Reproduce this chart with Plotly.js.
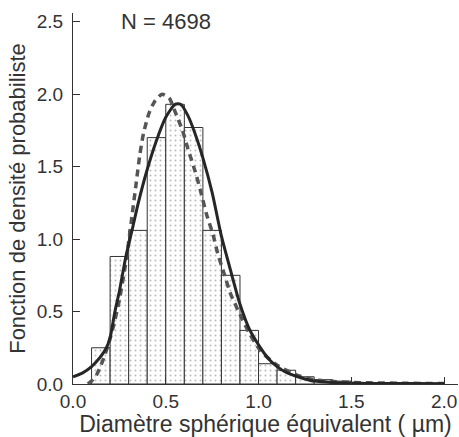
<!DOCTYPE html>
<html>
<head>
<meta charset="utf-8">
<script src="https://cdn.plot.ly/plotly-3.0.1.min.js"></script>
<style>html,body{margin:0;padding:0;background:#fff;}#chart{width:459px;height:437px;}</style>
</head>
<body>
<div id="chart"></div>
<script>
// Histogram: bin centres (width 0.1 µm) and densities
const binCenters = [0.15, 0.25, 0.35, 0.45, 0.55, 0.65, 0.75, 0.85, 0.95, 1.05, 1.15, 1.25, 1.35, 1.45, 1.55, 1.65, 1.75, 1.85, 1.95];
const binDensity = [0.25, 0.88, 1.06, 1.70, 1.93, 1.77, 1.06, 0.75, 0.37, 0.14, 0.095, 0.05, 0.03, 0.02, 0.01, 0.008, 0.006, 0.005, 0.005];

// Solid fitted curve
const solidX = [0.00, 0.05, 0.10, 0.15, 0.18, 0.20, 0.226, 0.25, 0.285, 0.32, 0.35, 0.40, 0.45, 0.50, 0.55, 0.58, 0.62, 0.66, 0.70, 0.75, 0.80, 0.85, 0.90, 0.95, 1.00, 1.05, 1.10, 1.15, 1.20, 1.25, 1.30, 1.40, 1.60, 1.80, 2.00];
const solidY = [0.05, 0.075, 0.12, 0.19, 0.25, 0.32, 0.50, 0.64, 0.88, 1.07, 1.24, 1.48, 1.68, 1.84, 1.93, 1.93, 1.85, 1.72, 1.56, 1.32, 1.02, 0.78, 0.55, 0.38, 0.27, 0.18, 0.12, 0.08, 0.055, 0.035, 0.02, 0.01, 0.004, 0.003, 0.002];

// Dashed fitted curve
const dashX = [0.08, 0.10, 0.13, 0.16, 0.19, 0.22, 0.25, 0.28, 0.30, 0.32, 0.34, 0.36, 0.38, 0.41, 0.44, 0.48, 0.52, 0.55, 0.59, 0.62, 0.66, 0.69, 0.72, 0.755, 0.78, 0.81, 0.85, 0.90, 0.955, 1.01, 1.10, 1.21, 1.30, 1.42, 1.60, 1.80, 2.00];
const dashY = [0.00, 0.02, 0.07, 0.16, 0.27, 0.41, 0.58, 0.80, 0.98, 1.18, 1.38, 1.58, 1.73, 1.87, 1.95, 2.00, 1.97, 1.88, 1.75, 1.62, 1.46, 1.32, 1.17, 1.03, 0.90, 0.78, 0.62, 0.48, 0.34, 0.23, 0.13, 0.06, 0.03, 0.015, 0.008, 0.005, 0.003];

const xTicks = [0.0, 0.5, 1.0, 1.5, 2.0];
const yTicks = [0.0, 0.5, 1.0, 1.5, 2.0, 2.5];
const xTitle = 'Diamètre sphérique équivalent ( µm)';
const yTitle = 'Fonction de densité probabiliste';
const nLabel = 'N = 4698';

const txt = '#333';
const fam = 'Liberation Sans, Arial, sans-serif';
const tickFont = {family: fam, size: 19, color: txt};

const traces = [
  {
    type: 'bar', x: binCenters, y: binDensity, width: 0.1,
    marker: {color: '#fff', line: {color: '#333', width: 1},
      pattern: {shape: '.', fgcolor: '#bbb', bgcolor: '#fff', size: 5, solidity: 0.12}},
    hoverinfo: 'skip'
  },
  {
    type: 'scatter', mode: 'lines', x: dashX, y: dashY,
    line: {color: '#555', width: 3.5, dash: '7px,5px', shape: 'spline', smoothing: 0.6}
  },
  {
    type: 'scatter', mode: 'lines', x: solidX, y: solidY,
    line: {color: '#262626', width: 3, shape: 'spline', smoothing: 0.6}
  }
];

const layout = {
  width: 459, height: 437,
  margin: {l: 73, r: 1, t: 13, b: 53},
  paper_bgcolor: '#fff', plot_bgcolor: '#fff',
  showlegend: false, bargap: 0,
  font: tickFont,
  xaxis: {
    range: [0, 2.075], tickvals: xTicks, tickformat: '.1f',
    ticks: 'inside', ticklen: 7, tickcolor: '#333',
    showline: true, linecolor: '#333', linewidth: 1,
    showgrid: false, zeroline: false, tickfont: tickFont,
    title: {text: xTitle, font: {family: fam, size: 23, color: txt}, standoff: 0}
  },
  yaxis: {
    range: [0, 2.56], tickvals: yTicks, tickformat: '.1f',
    ticks: 'inside', ticklen: 7, tickcolor: '#333', ticklabelstandoff: 5,
    showline: true, linecolor: '#333', linewidth: 1,
    showgrid: false, zeroline: false, tickfont: tickFont,
    title: {text: yTitle, font: {family: fam, size: 22, color: txt}, standoff: 5}
  },
  annotations: [{
    x: 0.5, y: 2.5, xref: 'x', yref: 'y', text: nLabel, showarrow: false,
    font: {family: fam, size: 22, color: txt}, xanchor: 'center', yanchor: 'middle'
  }]
};

Plotly.newPlot('chart', traces, layout, {displayModeBar: false, staticPlot: true});
</script>
</body>
</html>
